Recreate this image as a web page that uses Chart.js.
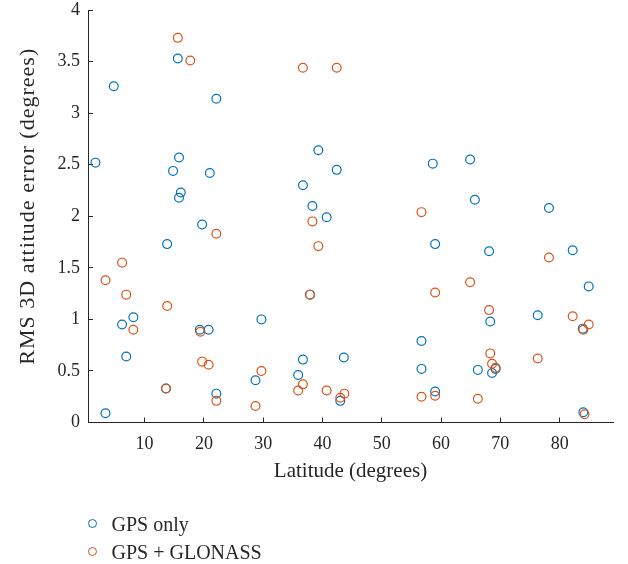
<!DOCTYPE html>
<html><head><meta charset="utf-8">
<script src="https://cdn.jsdelivr.net/npm/chart.js@4.4.1/dist/chart.umd.min.js"></script>
<style>
html,body{margin:0;padding:0;background:#fff;}
#wrap{position:relative;width:628px;height:564px;}
#legend{position:absolute;left:0;top:0;font-family:"Liberation Serif",serif;font-size:20px;line-height:20px;color:#262626;}
.txt{position:absolute;white-space:nowrap;}
.mk{position:absolute;width:7px;height:7px;border-radius:50%;border:1.2px solid;}
</style></head>
<body><div id="wrap"><canvas id="c" width="628" height="564"></canvas><div id="legend"></div></div>
<script>
const seriesNames = ["GPS only", "GPS + GLONASS"];
const seriesColors = ["#0072BD", "#D95319"];
const xTitle = "Latitude (degrees)";
const yTitle = "RMS 3D attitude error (degrees)";
const xTicks = [10, 20, 30, 40, 50, 60, 70, 80];
const yTicks = [0, 0.5, 1, 1.5, 2, 2.5, 3, 3.5, 4];

const gpsLat = [1.7, 3.4, 4.8, 6.2, 6.9, 8.1, 13.6, 13.8, 14.8, 15.6, 15.8, 15.8, 16.1, 19.3, 19.7, 20.8, 21.0, 22.1, 22.1, 28.7, 29.7, 35.9, 36.7, 36.7, 37.9, 38.3, 39.3, 40.7, 42.4, 43.0, 43.6, 56.7, 56.7, 58.6, 59.0, 59.0, 64.9, 65.7, 66.2, 68.1, 68.3, 68.6, 69.2, 76.3, 78.2, 82.2, 83.9, 84.0, 84.9];
const gpsErr = [2.52, 0.09, 3.26, 0.95, 0.64, 1.02, 0.33, 1.73, 2.44, 3.53, 2.57, 2.18, 2.23, 0.90, 1.92, 0.90, 2.42, 3.14, 0.28, 0.41, 1.00, 0.46, 2.30, 0.61, 1.24, 2.10, 2.64, 1.99, 2.45, 0.21, 0.63, 0.79, 0.52, 2.51, 1.73, 0.30, 2.55, 2.16, 0.51, 1.66, 0.98, 0.48, 0.52, 1.04, 2.08, 1.67, 0.91, 0.10, 1.32];

const glonassLat = [3.4, 6.2, 6.9, 8.1, 13.6, 13.8, 15.6, 17.7, 19.4, 19.7, 20.8, 22.1, 22.1, 28.7, 29.7, 35.9, 36.7, 36.7, 37.9, 38.3, 39.3, 40.7, 42.4, 43.0, 43.7, 56.7, 56.7, 59.0, 59.0, 64.9, 66.2, 68.1, 68.3, 68.6, 69.2, 76.3, 78.2, 82.2, 84.0, 84.2, 84.9];
const glonassErr = [1.38, 1.55, 1.24, 0.90, 0.33, 1.13, 3.73, 3.51, 0.88, 0.59, 0.56, 1.83, 0.21, 0.16, 0.50, 0.31, 3.44, 0.37, 1.24, 1.95, 1.71, 0.31, 3.44, 0.24, 0.28, 2.04, 0.25, 1.26, 0.26, 1.36, 0.23, 1.09, 0.67, 0.57, 0.53, 0.62, 1.60, 1.03, 0.90, 0.08, 0.95];

const FONT = "'Liberation Serif', 'Times New Roman', serif";
const TXT = "#262626";

function mk(lat, err, i, order) {
  return {
    label: seriesNames[i],
    data: lat.map((x, k) => ({x: x, y: err[k]})),
    borderColor: seriesColors[i],
    backgroundColor: "rgba(0,0,0,0)",
    pointRadius: 4.4,
    pointHoverRadius: 4.4,
    borderWidth: 1.2,
    showLine: false,
    order: order
  };
}

function wrapTitle(s) {
  if (s._titleWrapped) return;
  const orig = s.drawTitle;
  s.drawTitle = function () {
    const ctx = this.ctx;
    ctx.save();
    ctx.translate(0, -10);
    const prev = ctx.letterSpacing;
    ctx.letterSpacing = "1px";
    orig.call(this);
    ctx.letterSpacing = prev || "0px";
    ctx.restore();
  };
  s._titleWrapped = true;
}

const chart = new Chart(document.getElementById("c"), {
  type: "scatter",
  data: { datasets: [ mk(gpsLat, gpsErr, 0, 1), mk(glonassLat, glonassErr, 1, 0) ] },
  options: {
    responsive: false,
    animation: false,
    events: [],
    layout: { padding: { left: 0, right: 15, top: 10, bottom: 66.5 } },
    plugins: { legend: { display: false }, tooltip: { enabled: false } },
    scales: {
      x: {
        type: "linear", position: "bottom", min: 0.45, max: 89,
        border: { color: TXT, width: 1 },
        grid: { drawOnChartArea: false, drawTicks: true, tickLength: -5, tickColor: TXT, tickWidth: 1 },
        ticks: { font: { family: FONT, size: 18 }, color: TXT, padding: 15.5, includeBounds: false, maxRotation: 0, autoSkip: false },
        afterBuildTicks: s => { s.ticks = xTicks.map(v => ({ value: v })); },
        afterFit: s => { s.height = 75; s.paddingLeft = 0; s.paddingRight = 0; },
        title: { display: true, text: xTitle, font: { family: FONT, size: 21 }, color: TXT, padding: { top: 0, bottom: 13.3 } }
      },
      y: {
        type: "linear", position: "left", min: 0, max: 4,
        border: { color: TXT, width: 1 },
        grid: { drawOnChartArea: false, drawTicks: true, tickLength: -5, tickColor: TXT, tickWidth: 1 },
        ticks: { font: { family: FONT, size: 18 }, color: TXT, padding: 13, includeBounds: false, autoSkip: false,
                 callback: v => String(v) },
        afterBuildTicks: s => { s.ticks = yTicks.map(v => ({ value: v })); },
        afterFit: s => { s.width = 88; s.paddingTop = 0; s.paddingBottom = 0; wrapTitle(s); },
        title: { display: true, text: yTitle, font: { family: FONT, size: 22 }, color: TXT, padding: { top: 15, bottom: 0 } }
      }
    }
  }
});

// legend below the axes
const leg = document.getElementById("legend");
const rows = [{ cy: 524, base: 514 }, { cy: 551.7, base: 541.6 }];
chart.data.datasets.forEach((ds, i) => {
  const m = document.createElement("div");
  m.className = "mk";
  m.style.borderColor = ds.borderColor;
  m.style.left = (93 - 4.7) + "px";
  m.style.top = (rows[i].cy - 4.7) + "px";
  leg.appendChild(m);
  const t = document.createElement("div");
  t.className = "txt";
  t.textContent = ds.label;
  t.style.left = "111.5px";
  t.style.top = rows[i].base + "px";
  leg.appendChild(t);
});
</script>
</body></html>
